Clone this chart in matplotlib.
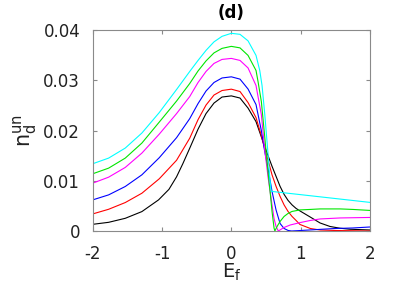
#!/usr/bin/env python3
"""Panel (d): unscreened n_d versus E_f for six parameter values."""

import matplotlib

matplotlib.use("Agg")
import matplotlib.pyplot as plt

# values, one (E_f, n_d) list per curve
E_CYAN = [-2.0, -1.77, -1.53, -1.29, -1.04, -0.79, -0.6, -0.48, -0.365, -0.25, -0.134, 0.0,
          0.125, 0.241, 0.356, 0.41, 0.443, 0.482, 0.53, 0.555, 0.575, 2.0]
N_CYAN = [0.0134, 0.01453, 0.01653, 0.01953, 0.0236, 0.0282, 0.0318, 0.0340, 0.0360, 0.0377,
          0.0388, 0.0394, 0.0392, 0.0379, 0.0350, 0.0320, 0.0290, 0.0233, 0.0153, 0.0105,
          0.0079, 0.0057]

E_GREEN = [-2.0, -1.77, -1.53, -1.29, -1.04, -0.79, -0.6, -0.48, -0.365, -0.25, -0.134, 0.0,
           0.125, 0.241, 0.356, 0.385, 0.433, 0.482, 0.52, 0.559, 0.587, 0.616, 0.628, 0.66,
           0.703, 0.761, 0.818, 0.876, 0.99, 1.14, 1.28, 1.57, 1.75, 2.0]
N_GREEN = [0.0114, 0.01253, 0.01453, 0.01753, 0.0217, 0.0259, 0.0294, 0.0319, 0.0339, 0.0355,
           0.0364, 0.0368, 0.0365, 0.0350, 0.0320, 0.0298, 0.0258, 0.0188, 0.0130, 0.0079,
           0.0039, 0.0006, 0.0, 0.0009, 0.0019, 0.0029, 0.0035, 0.0039, 0.0042, 0.0043, 0.0044,
           0.0044, 0.0043, 0.0041]

E_MAGENTA = [-2.0, -1.77, -1.53, -1.29, -1.04, -0.79, -0.6, -0.48, -0.365, -0.25, -0.134, 0.0,
             0.125, 0.241, 0.356, 0.385, 0.433, 0.482, 0.53, 0.587, 0.616, 0.645, 0.678, 0.76,
             0.85, 1.0, 1.14, 1.28, 1.57, 2.0]
N_MAGENTA = [0.00953, 0.01073, 0.01267, 0.01553, 0.0193, 0.0234, 0.0268, 0.0296, 0.0318,
             0.0334, 0.0342, 0.0344, 0.0340, 0.0325, 0.0290, 0.0268, 0.0232, 0.0162, 0.0107,
             0.0052, 0.0025, 0.0009, 0.0, 0.0007, 0.0012, 0.0017, 0.0021, 0.0024, 0.0026, 0.0027]

E_BLUE = [-2.0, -1.77, -1.53, -1.29, -1.04, -0.79, -0.6, -0.48, -0.365, -0.25, -0.134, 0.0,
          0.125, 0.241, 0.356, 0.433, 0.482, 0.53, 0.587, 0.645, 0.703, 0.761, 0.82, 0.87,
          1.0, 1.25, 1.5, 1.75, 2.0]
N_BLUE = [0.0062, 0.0072, 0.00887, 0.0112, 0.0146, 0.0186, 0.0224, 0.0254, 0.0279, 0.0296,
          0.0305, 0.03073, 0.03027, 0.0283, 0.0252, 0.0200, 0.0158, 0.0124, 0.0079, 0.0042,
          0.0015, 0.0005, 0.0001, 0.0, 0.0001, 0.0003, 0.0005, 0.0006, 0.0008]

E_RED = [-2.0, -1.77, -1.53, -1.29, -1.04, -0.79, -0.6, -0.48, -0.365, -0.25, -0.134, 0.0,
         0.125, 0.241, 0.356, 0.433, 0.482, 0.53, 0.587, 0.645, 0.703, 0.761, 0.818, 0.876,
         0.934, 0.99, 1.14, 1.28, 1.5, 2.0]
N_RED = [0.0034, 0.00433, 0.00567, 0.00753, 0.0104, 0.0141, 0.0185, 0.0222, 0.0251, 0.0271,
         0.0280, 0.02827, 0.0278, 0.0256, 0.0226, 0.0190, 0.0163, 0.0141, 0.0112, 0.0089,
         0.0069, 0.0052, 0.0039, 0.0029, 0.0021, 0.0013, 0.0005, 0.0002, 0.0001, 0.0]

E_BLACK = [-2.0, -1.77, -1.53, -1.29, -1.05, -0.9, -0.79, -0.7, -0.6, -0.48, -0.365, -0.25,
           -0.134, 0.0, 0.125, 0.241, 0.356, 0.414, 0.472, 0.53, 0.587, 0.645, 0.703, 0.761,
           0.818, 0.876, 0.934, 0.99, 1.136, 1.28, 1.424, 1.569, 1.713, 2.0]
N_BLACK = [0.00133, 0.00173, 0.00253, 0.00387, 0.0062, 0.0083, 0.0108, 0.0134, 0.0165, 0.0203,
           0.0234, 0.0255, 0.0267, 0.02693, 0.0265, 0.0245, 0.0218, 0.0195, 0.0172, 0.0150,
           0.0129, 0.0109, 0.0089, 0.0073, 0.0061, 0.0052, 0.0045, 0.0040, 0.0028, 0.0016,
           0.0009, 0.00055, 0.00035, 0.0002]

X_TICKS = [-2, -1, 0, 1, 2]
X_TICK_LABELS = ["-2", "-1", "0", "1", "2"]
Y_TICKS = [0.0, 0.01, 0.02, 0.03, 0.04]
Y_TICK_LABELS = ["0", "0.01", "0.02", "0.03", "0.04"]


def main() -> None:
    plt.rcParams["font.family"] = ["DejaVu Sans"]
    fig = plt.figure(figsize=(4.09, 2.96), dpi=100)
    ax = fig.add_axes([0.2266, 0.2196, 0.678, 0.678])

    series = [
        (E_BLACK, N_BLACK, "black"),
        (E_RED, N_RED, "#ff0000"),
        (E_BLUE, N_BLUE, "#0000ff"),
        (E_MAGENTA, N_MAGENTA, "#ff00ff"),
        (E_GREEN, N_GREEN, "#00e600"),
        (E_CYAN, N_CYAN, "#00ffff"),
    ]
    for xs, ys, color in series:
        ax.plot(xs, ys, color=color, linewidth=0.8)

    ax.set_xlim(-2, 2)
    ax.set_ylim(0, 0.04)
    ax.set_xticks(X_TICKS)
    ax.set_xticklabels(X_TICK_LABELS)
    ax.set_yticks(Y_TICKS)
    ax.set_yticklabels(Y_TICK_LABELS)

    frame = "#8a8a8a"
    for spine in ax.spines.values():
        spine.set_color(frame)
        spine.set_linewidth(0.8)
    ax.tick_params(direction="in", length=3, width=0.8, color=frame,
                   top=True, right=True, labelsize=12, labelcolor="#222222")
    ax.tick_params(axis="x", pad=10)
    ax.tick_params(axis="y", pad=9)

    ax.set_xlabel(r"E$_\mathregular{f}$", fontsize=14, labelpad=-1, color="#222222")
    ax.set_ylabel(r"n$_\mathregular{d}^\mathregular{un}$", fontsize=15, labelpad=3, color="#222222")
    ax.set_title("(d)", fontsize=12, fontweight="bold", pad=9)

    fig.savefig("out.png", dpi=100)


if __name__ == "__main__":
    main()
